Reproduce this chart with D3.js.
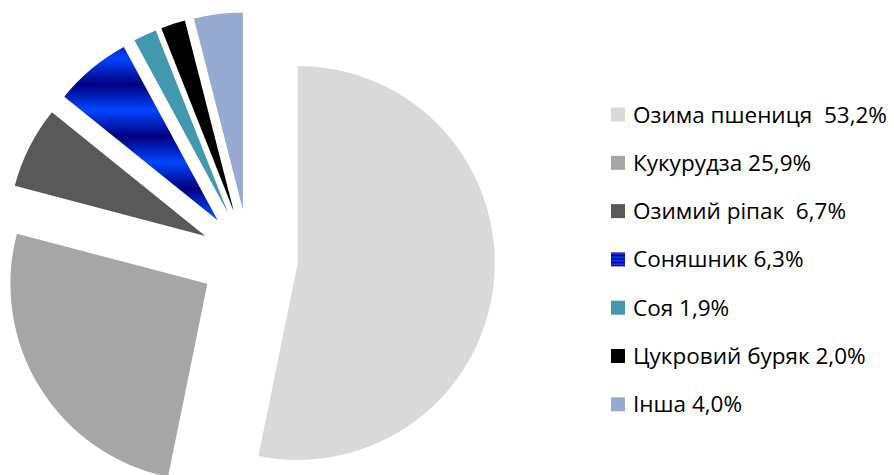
<!DOCTYPE html>
<html>
<head>
<meta charset="utf-8">
<script src="https://cdn.jsdelivr.net/npm/d3@7"></script>
<style>
  body { margin: 0; background: #fff; }
  #chart { width: 894px; height: 475px; }
</style>
</head>
<body>
<div id="chart"></div>
<script>
// crops share, clockwise from 12 o'clock
const crops = ["Озима пшениця", "Кукурудза", "Озимий ріпак", "Соняшник", "Соя", "Цукровий буряк", "Інша"]
const shares = [53.2, 25.9, 6.7, 6.3, 1.9, 2.0, 4.0]
const legendLabels = ["Озима пшениця  53,2%", "Кукурудза 25,9%", "Озимий ріпак  6,7%", "Соняшник 6,3%", "Соя 1,9%", "Цукровий буряк 2,0%", "Інша 4,0%"]
const colors = ["#d9d9d9", "#a6a6a6", "#595959", "url(#sunGrad)", "#4198af", "#000000", "#95abd2"]

const width = 894, height = 475
const cx = 249, cy = 258
const radius = 197
const explode = 49

const svg = d3.select("#chart").append("svg")
    .attr("width", width)
    .attr("height", height)

// striped blue fill for the sunflower slice
const defs = svg.append("defs")
const sunGrad = defs.append("linearGradient")
    .attr("id", "sunGrad")
    .attr("gradientUnits", "userSpaceOnUse")
    .attr("x1", 0).attr("y1", 20).attr("x2", 0).attr("y2", 72)
    .attr("spreadMethod", "repeat")
// rough band layout: navy -> bright -> navy
sunGrad.selectAll("stop")
    .data([[0, "#000080"], [0.5, "#0046ff"], [1, "#000080"]])
    .enter().append("stop")
    .attr("offset", d => d[0])
    .attr("stop-color", d => d[1])

const legGrad = defs.append("linearGradient")
    .attr("id", "legGrad")
    .attr("gradientUnits", "userSpaceOnUse")
    .attr("x1", 0).attr("y1", 0).attr("x2", 0).attr("y2", 3.5)
    .attr("spreadMethod", "repeat")
legGrad.selectAll("stop")
    .data([[0, "#000090"], [0.5, "#1040ff"], [1, "#000090"]])
    .enter().append("stop")
    .attr("offset", d => d[0])
    .attr("stop-color", d => d[1])

const pie = d3.pie().sort(null).value(d => d)
const arcs = pie(shares)

const arc = d3.arc().innerRadius(0).outerRadius(radius)

const g = svg.append("g").attr("transform", `translate(${cx},${cy})`)

g.selectAll("path")
    .data(arcs)
    .enter()
    .append("path")
    .attr("d", arc)
    .attr("transform", d => {
        let a = (d.startAngle + d.endAngle) / 2
        return `translate(${explode * Math.sin(a)},${-explode * Math.cos(a)})`
    })
    .style("fill", (d, i) => colors[i])

// legend
const legX = 611, legY0 = 122.5, legStep = 48.3
const leg = svg.append("g")
crops.forEach((c, i) => {
    let y = legY0 + i * legStep
    leg.append("rect")
        .attr("x", legX)
        .attr("y", y - 15)
        .attr("width", 14)
        .attr("height", 14)
        .style("fill", i == 3 ? "url(#legGrad)" : colors[i])
    leg.append("text")
        .attr("x", legX + 22)
        .attr("y", y)
        .style("font-family", "'Open Sans', sans-serif")
        .style("font-size", "22.5px")
        .style("white-space", "pre")
        .style("fill", "#000")
        .text(legendLabels[i])
})
</script>
</body>
</html>
